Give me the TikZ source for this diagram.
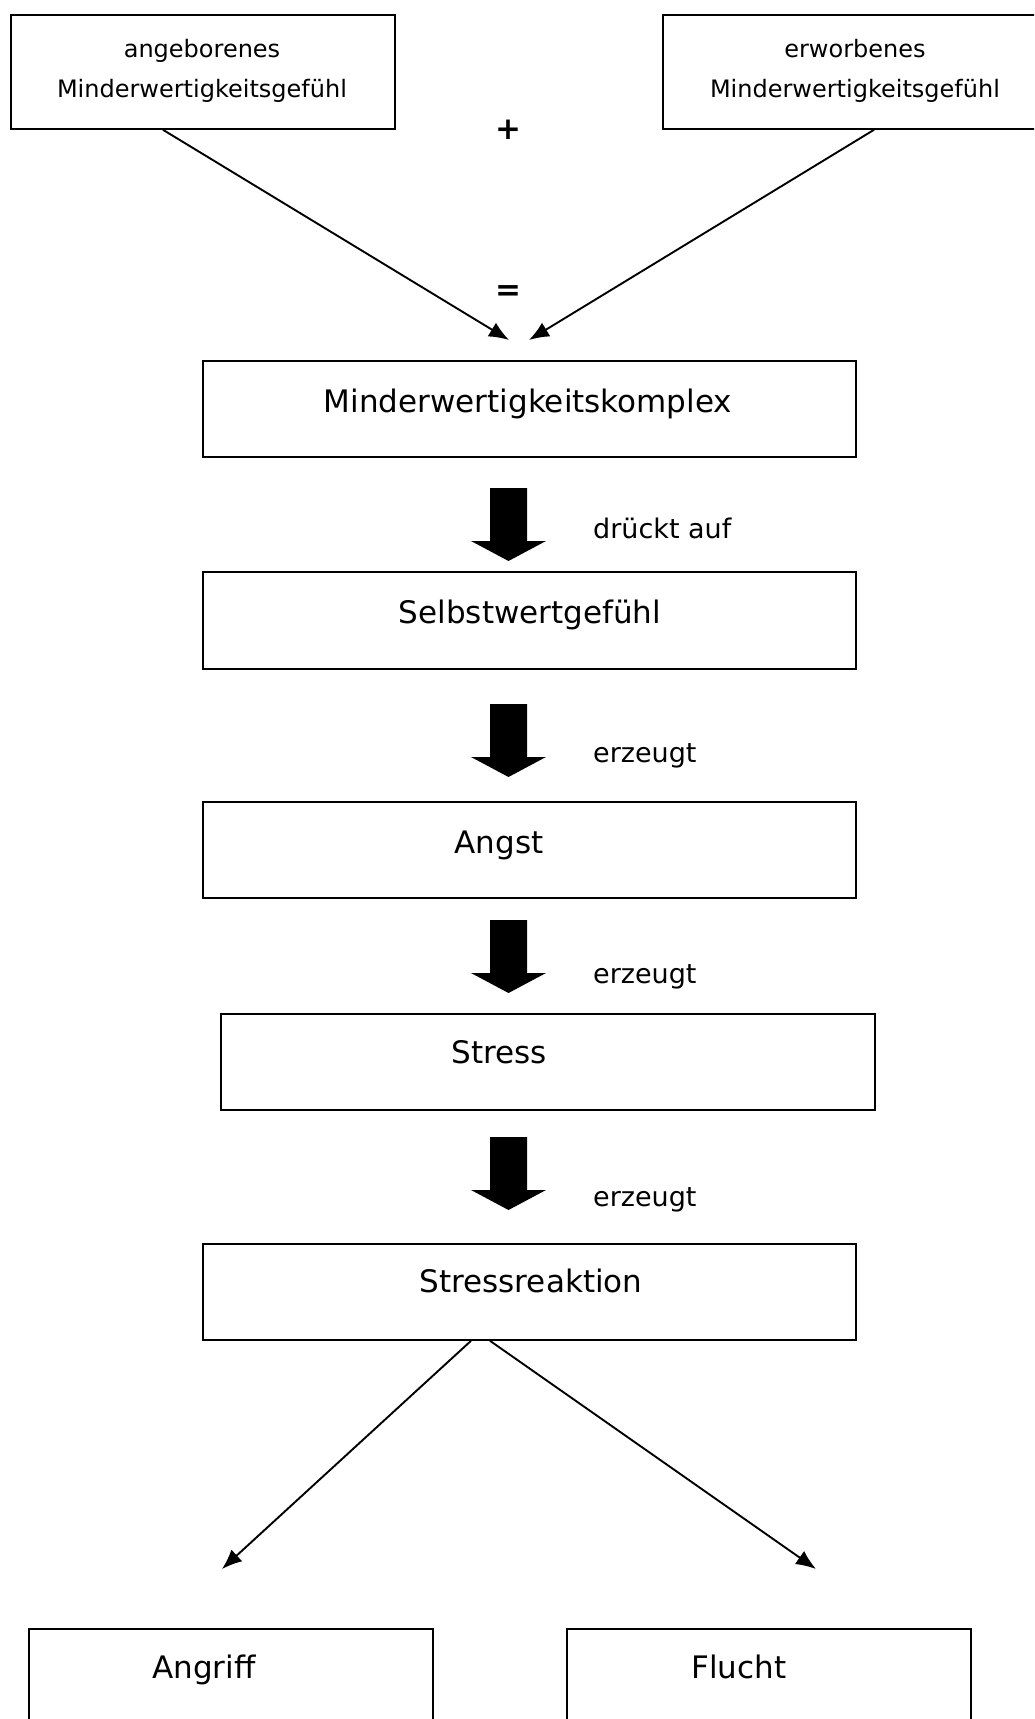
\documentclass[tikz,border=0pt]{standalone}
\usepackage{fontspec}
\setmainfont{DejaVu Sans}
\usetikzlibrary{arrows.meta}
\begin{document}
\begin{tikzpicture}[x=1pt,y=-1pt,
  box/.style={draw, line width=1.8pt, rectangle, inner sep=0pt, anchor=north west},
  big/.style={font=\fontsize{31}{37}\selectfont, inner sep=0pt, anchor=base},
  small/.style={font=\fontsize{24}{29}\selectfont, inner sep=0pt, anchor=base},
  lab/.style={font=\fontsize{27}{32}\selectfont, inner sep=0pt, anchor=base west},
  op/.style={font=\fontsize{31}{36}\selectfont\bfseries, inner sep=0pt},
  conn/.style={line width=1.9pt, -{Latex[length=20pt,width=16pt]}},
  blockarrow/.pic={\fill (-18.5,0) -- (18.5,0) -- (18.5,53) -- (37.5,53) -- (0,73) -- (-37.5,53) -- (-18.5,53) -- cycle;}
]
\useasboundingbox (0,0) rectangle (1034,1719);
\clip (0,0) rectangle (1034,1719);

% top boxes
\node[box, minimum width=384pt, minimum height=114pt] (lb) at (10,14) {};
\node[box, minimum width=390pt, minimum height=114pt] (rb) at (662,14) {};
\node[small] (lt1) at (202,57) {angeborenes};
\node[small] (lt2) at (202,97) {Minderwertigkeitsgefühl};
\node[small] (rt1) at (855,57) {erworbenes};
\node[small] (rt2) at (855,97) {Minderwertigkeitsgefühl};
\node[op] (plus) at (508,130) {+};
\node[op] (eq) at (508,293) {=};

% main column
\node[box, minimum width=653pt, minimum height=96pt] (mk) at (202,360) {};
\node[big] (mkt) at (528,412) {Minderwertigkeitskomplex};
\node[box, minimum width=653pt, minimum height=97pt] (sw) at (202,571) {};
\node[big] (swt) at (530,623) {Selbstwertgefühl};
\node[box, minimum width=653pt, minimum height=96pt] (an) at (202,801) {};
\node[big] (ant) at (499,853) {Angst};
\node[box, minimum width=654pt, minimum height=96pt] (st) at (220,1013) {};
\node[big] (stt) at (499,1063) {Stress};
\node[box, minimum width=653pt, minimum height=96pt] (sr) at (202,1243) {};
\node[big] (srt) at (531,1292) {Stressreaktion};

% bottom boxes
\node[box, minimum width=404pt, minimum height=130pt] (ag) at (28,1628) {};
\node[big] (agt) at (204,1678) {Angriff};
\node[box, minimum width=404pt, minimum height=130pt] (fl) at (566,1628) {};
\node[big] (flt) at (739,1678) {Flucht};

% block arrows and labels
\pic at (508.5,488) {blockarrow};
\node[lab] (l1) at (593,538) {drückt auf};
\pic at (508.5,704) {blockarrow};
\node[lab] (l2) at (593,762) {erzeugt};
\pic at (508.5,920) {blockarrow};
\node[lab] (l3) at (593,983) {erzeugt};
\pic at (508.5,1137) {blockarrow};
\node[lab] (l4) at (593,1206) {erzeugt};

% thin connectors
\coordinate (t1) at (509,340);
\coordinate (t2) at (529,340);
\coordinate (t3) at (222,1569);
\coordinate (t4) at (816,1569);
\draw[conn] (163,0 |- lb.south) -- (t1);
\draw[conn] (874,0 |- rb.south) -- (t2);
\draw[conn] (471,0 |- sr.south) -- (t3);
\draw[conn] (490,0 |- sr.south) -- (t4);
\end{tikzpicture}
\end{document}
